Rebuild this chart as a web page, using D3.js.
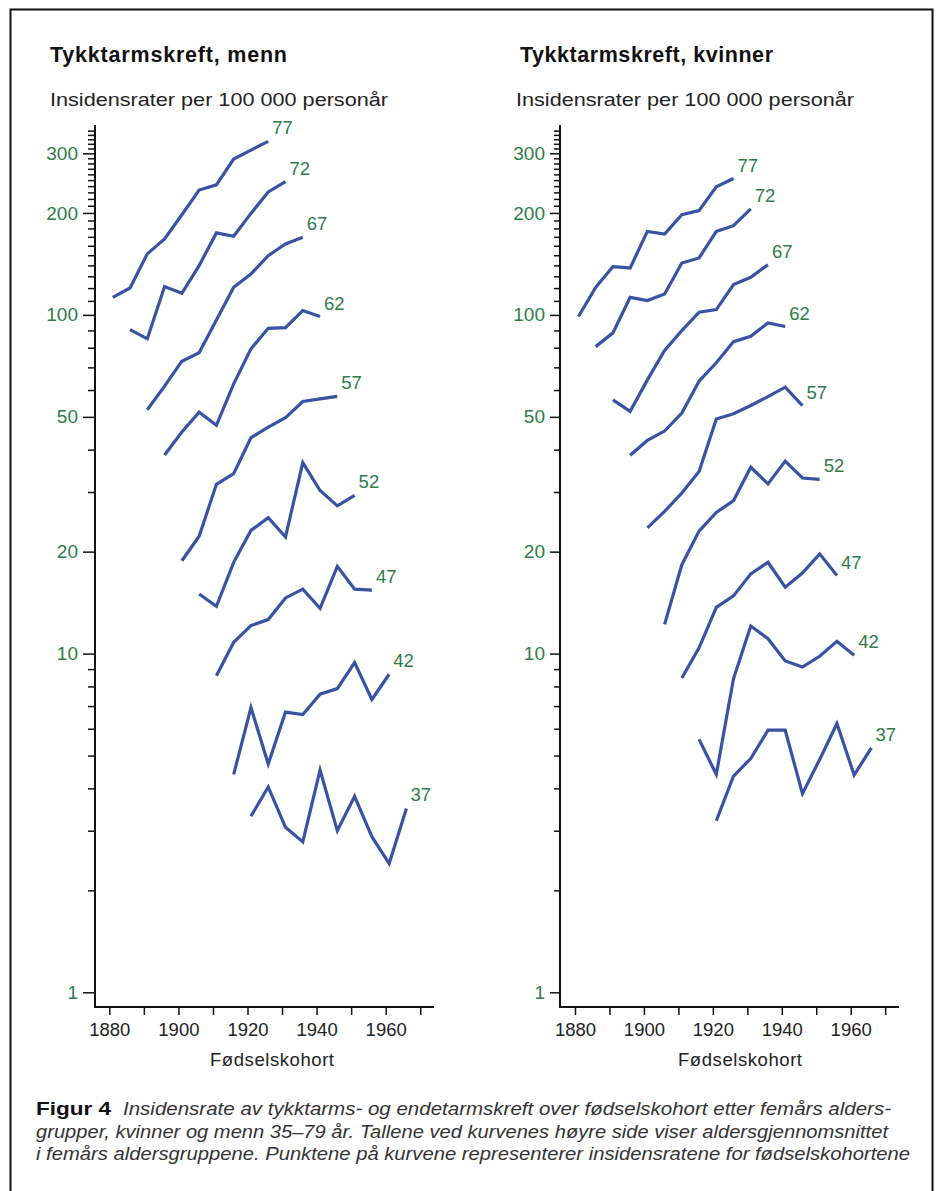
<!DOCTYPE html>
<html><head><meta charset="utf-8">
<script src="https://cdn.jsdelivr.net/npm/d3@7"></script>
<style>
body{margin:0;background:#fff}
text{font-family:"Liberation Sans",Arial,sans-serif}
</style>
</head><body>
<svg id="c" width="936" height="1191"></svg>
<script>
// ---------- DATA ----------
const cohortYears = [1881,1886,1891,1896,1901,1906,1911,1916,1921,1926,1931,1936,1941,1946,1951,1956,1961,1966];
const ageGroups = ["77","72","67","62","57","52","47","42","37"];
const startIndex = [0,1,2,3,4,5,6,7,8];   // index in cohortYears of first point of each age group

const mennRates = [
  [112.7,120.1,151.4,167.5,197.6,233.7,242.2,288.5,306.7,325.2],
  [90.5,85.0,121.2,115.8,139.8,174.6,170.6,199.4,230.6,247.3],
  [52.5,61.6,73.0,77.3,96.6,120.6,132.1,149.6,162.0,169.4],
  [38.6,45.1,51.6,47.2,62.6,79.4,91.3,91.7,103.0,98.9],
  [18.8,22.2,31.6,34.0,43.4,46.6,49.7,55.5,56.5,57.5],
  [15.0,13.8,18.6,23.1,25.2,22.1,36.6,30.3,27.3,29.3],
  [8.6,10.8,12.1,12.6,14.6,15.5,13.6,18.1,15.5,15.4],
  [4.40,6.93,4.72,6.72,6.61,7.59,7.88,9.41,7.32,8.69],
  [3.31,4.04,3.07,2.78,4.53,3.00,3.79,2.88,2.40,3.49]
];
const kvinnerRates = [
  [98.9,120.6,138.8,137.6,176.4,173.3,197.6,203.2,239.0,252.7],
  [80.6,88.5,112.7,110.2,115.3,142.3,147.3,176.4,183.4,205.5],
  [56.1,51.9,64.3,78.5,89.9,101.8,103.7,122.9,129.1,140.7],
  [38.5,42.6,45.4,51.3,63.7,72.2,83.4,86.5,94.7,92.4],
  [23.5,26.3,29.8,34.5,49.3,51.1,54.0,57.4,61.2,54.0],
  [12.2,18.3,23.0,26.1,28.3,35.5,31.7,37.0,33.0,32.7],
  [8.47,10.4,13.7,14.8,17.2,18.6,15.7,17.3,19.7,17.0],
  [5.58,4.40,8.44,12.06,11.07,9.51,9.13,9.82,10.87,9.89],
  [3.21,4.35,4.90,5.94,5.94,3.86,4.87,6.22,4.38,5.27]
];

const yMajorTicks = [1,10,20,50,100,200,300];
const yMinorTicks = [2,3,4,5,6,7,8,9,30,40,60,70,80,90,110,120,130,140,150,160,170,180,190,210,220,230,240,250,260,270,280,290,310,320,330,340,350];
const xTicks = [1880,1890,1900,1910,1920,1930,1940,1950,1960,1970];
const xTickLabels = [1880,1900,1920,1940,1960];

const titles = ["Tykktarmskreft, menn","Tykktarmskreft, kvinner"];
const subtitle = "Insidensrater per 100 000 personår";
const xTitle = "Fødselskohort";
const captionBold = "Figur 4";
const captionLines = [
  "Insidensrate av tykktarms- og endetarmskreft over fødselskohort etter femårs alders-",
  "grupper, kvinner og menn 35–79 år. Tallene ved kurvenes høyre side viser aldersgjennomsnittet",
  "i femårs aldersgruppene. Punktene på kurvene representerer insidensratene for fødselskohortene"
];

// ---------- LAYOUT ----------
const GREEN = "#2f7b4b", BLUE = "#3953a4";
const yTop = 125, yBase = 1007;
const y = d3.scaleLog().domain([1,300]).range([992.3,153.3]);

const panels = [
  {rates: mennRates, axisX: 95, x0: 109.3, x1: 385.7, axisRight: 434, major: 12, minor: 7,
   titleX: 50, titleW: 237, subX: 50, subW: 338, xTitleC: 272},
  {rates: kvinnerRates, axisX: 560, x0: 575, x1: 850.7, axisRight: 899, major: 10, minor: 6,
   titleX: 520, titleW: 253, subX: 516, subW: 338, xTitleC: 740}
];

const svg = d3.select("#c");

// frame
svg.append("rect").attr("x",10.5).attr("y",9.5).attr("width",922).attr("height",1200)
  .attr("fill","none").attr("stroke","#111").attr("stroke-width",2);

panels.forEach((p,pi) => {
  const x = d3.scaleLinear().domain([1880,1960]).range([p.x0,p.x1]);
  const g = svg.append("g");

  // titles
  g.append("text").attr("x",p.titleX).attr("y",62).attr("font-size",21.5).attr("font-weight","bold")
    .attr("fill","#111").attr("textLength",p.titleW).attr("lengthAdjust","spacing").text(titles[pi]);
  g.append("text").attr("x",p.subX).attr("y",106).attr("font-size",18.5)
    .attr("font-family","'DejaVu Sans',sans-serif")
    .attr("fill","#222").attr("textLength",p.subW).attr("lengthAdjust","spacingAndGlyphs").text(subtitle);

  // y axis: minor ticks
  const yMinor = d3.axisLeft(y).tickValues(yMinorTicks).tickSize(p.minor).tickFormat("");
  g.append("g").attr("transform",`translate(${p.axisX},0)`).call(yMinor)
    .call(a => a.select(".domain").remove())
    .call(a => a.selectAll("line").attr("stroke","#111").attr("stroke-width",1.5));
  // y axis: major ticks with labels
  const yMajor = d3.axisLeft(y).tickValues(yMajorTicks).tickSize(p.major).tickPadding(5).tickFormat(d3.format("d"));
  g.append("g").attr("transform",`translate(${p.axisX},0)`).call(yMajor)
    .call(a => a.select(".domain").remove())
    .call(a => a.selectAll("line").attr("stroke","#111").attr("stroke-width",1.5))
    .call(a => a.selectAll("text").attr("fill",GREEN).attr("font-size",19)
      .attr("font-family","'Liberation Sans',Arial,sans-serif"));
  g.append("line").attr("x1",p.axisX).attr("x2",p.axisX).attr("y1",yTop).attr("y2",yBase+1)
    .attr("stroke","#111").attr("stroke-width",2);

  // x axis
  const xAxis = d3.axisBottom(x).tickValues(xTicks).tickSize(8).tickPadding(8)
    .tickFormat(d => xTickLabels.includes(d) ? d : "");
  g.append("g").attr("transform",`translate(0,${yBase})`).call(xAxis)
    .call(a => a.select(".domain").remove())
    .call(a => a.selectAll("line").attr("stroke","#111").attr("stroke-width",1.5))
    .call(a => a.selectAll("text").attr("fill","#222").attr("font-size",18.5)
      .attr("font-family","'Liberation Sans',Arial,sans-serif"));
  g.append("line").attr("x1",p.axisX-1).attr("x2",p.axisRight).attr("y1",yBase).attr("y2",yBase)
    .attr("stroke","#111").attr("stroke-width",2);
  g.append("text").attr("x",p.xTitleC).attr("y",1066).attr("text-anchor","middle").attr("font-size",18.5)
    .attr("fill","#222").attr("textLength",124).attr("lengthAdjust","spacing").text(xTitle);

  // curves
  const line = d3.line().x(d => x(d.year)).y(d => y(d.v));
  p.rates.forEach((vals,i) => {
    const pts = vals.map((v,j) => ({year: cohortYears[startIndex[i]+j], v}));
    g.append("path").attr("d",line(pts)).attr("fill","none").attr("stroke",BLUE)
      .attr("stroke-width",3.2).attr("stroke-linejoin","miter");
    const last = pts[pts.length-1];
    g.append("text").attr("x",x(last.year)+4).attr("y",y(last.v)-7).attr("font-size",18.5)
      .attr("fill",GREEN).text(ageGroups[i]);
  });
});

// caption
const cap = svg.append("g").attr("font-family","Roboto,'Liberation Sans',sans-serif");
cap.append("text").attr("x",36).attr("y",1115).attr("font-size",19).attr("font-weight","bold")
  .attr("fill","#111").attr("textLength",75).attr("lengthAdjust","spacingAndGlyphs").text(captionBold);
const capStarts = [123,36,36], capWidths = [768,852,874], capY = [1115,1138,1160];
captionLines.forEach((t,i) => {
  cap.append("text").attr("x",capStarts[i]).attr("y",capY[i]).attr("font-size",17.5)
    .attr("font-style","italic").attr("fill","#333")
    .attr("textLength",capWidths[i]).attr("lengthAdjust","spacingAndGlyphs").text(t);
});
</script>
</body></html>
